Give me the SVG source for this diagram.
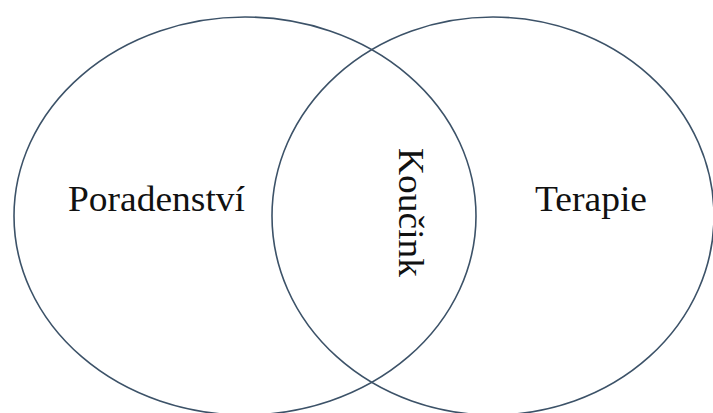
<svg xmlns="http://www.w3.org/2000/svg" width="713" height="413" viewBox="0 0 713 413">
<style>
.c{fill:none;stroke:#3c5268;stroke-width:1.6}
.t{font-family:"Liberation Serif","Times New Roman",serif;font-size:36px;fill:#111}
</style>
<rect width="713" height="413" fill="#fff"/>
<g id="poradenstvi">
<ellipse class="c" cx="245" cy="216" rx="231" ry="199"/>
<text class="t" x="68" y="211" textLength="177" lengthAdjust="spacingAndGlyphs">Poradenství</text>
</g>
<g id="terapie">
<ellipse class="c" cx="493" cy="216" rx="221" ry="199"/>
<text class="t" x="535" y="211" textLength="112" lengthAdjust="spacingAndGlyphs">Terapie</text>
</g>
<g id="koucink">
<text class="t" transform="translate(399,148) rotate(90)" x="0" y="0" textLength="129" lengthAdjust="spacingAndGlyphs">Koučink</text>
</g>
<g id="connectors"></g>
</svg>
